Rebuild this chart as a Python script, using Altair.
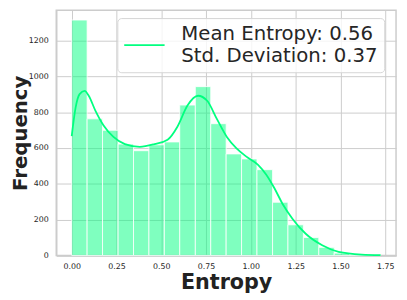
import altair as alt
import pandas as pd

# Histogram bins (edges) and counts
bin_start = [0.000, 0.086, 0.172, 0.259, 0.345, 0.431, 0.517, 0.603, 0.690, 0.776,
             0.862, 0.948, 1.034, 1.121, 1.207, 1.293, 1.379, 1.465, 1.552, 1.638]
bin_end = [0.086, 0.172, 0.259, 0.345, 0.431, 0.517, 0.603, 0.690, 0.776, 0.862,
           0.948, 1.034, 1.121, 1.207, 1.293, 1.379, 1.465, 1.552, 1.638, 1.724]
counts = [1315, 763, 699, 622, 585, 618, 634, 840, 943, 736,
          567, 539, 479, 297, 171, 100, 45, 13, 5, 2]

# KDE curve points
kde_x = [0.0, 0.022, 0.044, 0.072, 0.095, 0.132, 0.178, 0.233, 0.297, 0.38,
         0.462, 0.535, 0.59, 0.646, 0.705, 0.756, 0.81, 0.866, 0.92, 0.975,
         1.04, 1.086, 1.13, 1.178, 1.233, 1.306, 1.398, 1.49, 1.618, 1.724]
kde_y = [666, 827, 901, 919, 892, 809, 726, 662, 622, 607,
         622, 646, 719, 837, 892, 864, 763, 662, 598, 552,
         506, 451, 378, 286, 204, 121, 57, 20, 5, 2]

x_ticks = [0.0, 0.25, 0.5, 0.75, 1.0, 1.25, 1.5, 1.75]
y_ticks = [0, 200, 400, 600, 800, 1000, 1200]
legend_lines = ["Mean Entropy: 0.56", "Std. Deviation: 0.37"]

bars_df = pd.DataFrame({"start": bin_start, "end": bin_end, "count": counts})
kde_df = pd.DataFrame({"x": kde_x, "y": kde_y, "series": ["kde"] * len(kde_x)})

xscale = alt.Scale(domain=[-0.0862, 1.8102], nice=False, zero=False)
yscale = alt.Scale(domain=[0, 1370], nice=False)

FONT = "DejaVu Sans"
TXT = "#262626"

bars = alt.Chart(bars_df).mark_bar(
    fill="#00ff7f", fillOpacity=0.5, stroke="white", strokeWidth=0.8
).encode(
    x=alt.X("start:Q", scale=xscale,
            axis=alt.Axis(values=x_ticks, format=".2f", title="Entropy",
                          titleY=34, titleBaseline="alphabetic",
                          labelPadding=7)),
    x2="end:Q",
    y=alt.Y("count:Q", scale=yscale,
            axis=alt.Axis(values=y_ticks, format="d", title="Frequency",
                          titleX=-30, titleAngle=270, titleFontSize=20,
                          titleBaseline="alphabetic", labelPadding=8)),
    y2=alt.datum(0),
)

label_expr = "[" + ", ".join("'" + s + "'" for s in legend_lines) + "]"

kde = alt.Chart(kde_df).mark_line(strokeWidth=1.8, interpolate="monotone").encode(
    x=alt.X("x:Q", scale=xscale),
    y=alt.Y("y:Q", scale=yscale),
    color=alt.Color("series:N",
                    scale=alt.Scale(domain=["kde"], range=["#00ff7f"]),
                    legend=alt.Legend(
                        title=None, orient="none", legendX=62, legendY=8,
                        symbolType="stroke", symbolSize=1681,
                        symbolStrokeWidth=1.8, labelFontSize=20,
                        labelFont=FONT, labelColor=TXT, labelOffset=16,
                        labelLimit=400, labelExpr=label_expr,
                        labelBaseline="line-bottom",
                        padding=6, fillColor="rgba(255,255,255,0.8)",
                        strokeColor="#d5d5d5", cornerRadius=4)),
)

chart = alt.layer(bars, kde).properties(
    width=345, height=249,
    autosize=alt.AutoSizeParams(type="none"),
    padding={"left": 49, "top": 0, "right": 3, "bottom": 41},
).configure(font=FONT).configure_view(
    stroke="#cccccc", strokeWidth=1.5
).configure_axis(
    domainColor="#cccccc", domainWidth=1.5, gridColor="#cccccc", gridWidth=1,
    ticks=False, tickSize=0, labelFont=FONT, labelFontSize=8, labelColor=TXT,
    titleFont=FONT, titleFontSize=21, titleFontWeight="bold", titleColor="#222222",
)

chart.save("out.html", embed_options={"renderer": "svg", "actions": False})
